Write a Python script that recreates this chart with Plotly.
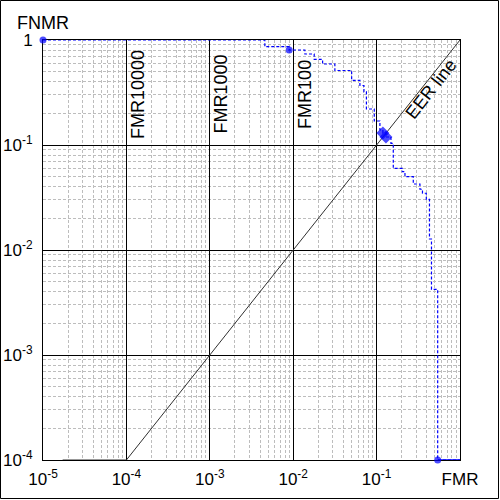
import math
import plotly.graph_objects as go

# DET curve (step vertices, 'hv' shape)
fmr = [1e-5, 4.57e-3, 8.95e-3, 0.0138, 0.01786, 0.02252, 0.0316, 0.0502, 0.0631,
       0.0705, 0.0755, 0.0938, 0.1096, 0.119, 0.1294, 0.1486, 0.1585, 0.2033,
       0.2188, 0.2754, 0.331, 0.3548, 0.3945, 0.4305, 0.455, 0.540, 1.0]
fnmr = [1.0, 0.863, 0.803, 0.736, 0.655, 0.591, 0.5124, 0.4133, 0.3686,
        0.3219, 0.2203, 0.1693, 0.139, 0.130, 0.1192, 0.1038, 0.060, 0.0557,
        0.0499, 0.0425, 0.0379, 0.0347, 0.0304, 0.01273, 0.00422, 1e-4, 1e-4]

# highlighted operating points
mark_x = [1e-5, 8.95e-3, 0.119, 0.1294, 0.540]
mark_y = [1.0, 0.803, 0.130, 0.1192, 1e-4]
mark_sym = ["circle", "circle", "diamond", "diamond", "circle"]
mark_size = [7, 7, 10, 10, 7]

# EER reference line
eer_x = [1.72e-5, 1e-4, 1.0]
eer_y = [1e-4, 1e-4, 1.0]

x_tickvals = [1e-5, 1e-4, 1e-3, 1e-2, 1e-1, 1]
x_ticktext = ["10<sup>-5</sup>", "10<sup>-4</sup>", "10<sup>-3</sup>",
              "10<sup>-2</sup>", "10<sup>-1</sup>", "FMR"]
y_tickvals = [1e-4, 1e-3, 1e-2, 1e-1, 1]
y_ticktext = ["10<sup>-4</sup>", "10<sup>-3</sup>", "10<sup>-2</sup>",
              "10<sup>-1</sup>", "1"]

fmr_labels = ["FMR10000", "FMR1000", "FMR100"]
fmr_label_x = [1e-4, 1e-3, 1e-2]

FONT = "Liberation Sans, Arial, sans-serif"
BLUE = "#0000ff"

fig = go.Figure()
fig.add_trace(go.Scatter(x=eer_x, y=eer_y, mode="lines",
                         line=dict(color="#303030", width=1), hoverinfo="skip"))
fig.add_trace(go.Scatter(x=fmr, y=fnmr, mode="lines", line_shape="hv",
                         line=dict(color=BLUE, width=1.2, dash="3px,2px")))
fig.add_trace(go.Scatter(x=fmr[-2:], y=fnmr[-2:], mode="lines",
                         line=dict(color=BLUE, width=1.5)))
fig.add_trace(go.Scatter(x=mark_x, y=mark_y, mode="markers",
                         marker=dict(color=BLUE, size=mark_size, symbol=mark_sym, line=dict(width=0)),
                         cliponaxis=False))

axis_common = dict(
    type="log", showline=True, linecolor="black", linewidth=1, mirror=True,
    showgrid=True, gridcolor="black", gridwidth=1, ticks="",
    tickfont=dict(family=FONT, size=17, color="black"),
    layer="below traces", zeroline=False, automargin=False,
    minor=dict(dtick="D1", showgrid=True, gridcolor="#bdbdbd", griddash="3px,2px", gridwidth=1),
)
fig.update_xaxes(range=[-5, 0], tickmode="array", tickvals=x_tickvals, ticktext=x_ticktext,
                 ticklabelstandoff=4, **axis_common)
fig.update_yaxes(range=[-4, 0], tickmode="array", tickvals=y_tickvals, ticktext=y_ticktext,
                 ticklabelstandoff=6, **axis_common)

annotations = [dict(xref="paper", yref="paper", x=0, y=1, yshift=17, text="FNMR",
                    showarrow=False, xanchor="center", yanchor="middle",
                    font=dict(family=FONT, size=18, color="black"))]
for lab, xv in zip(fmr_labels, fmr_label_x):
    annotations.append(dict(xref="x", yref="paper", x=math.log10(xv), y=0.871, xshift=11.5,
                            text=lab, textangle=-90, showarrow=False,
                            xanchor="center", yanchor="middle",
                            font=dict(family=FONT, size=18, color="black")))
annotations.append(dict(xref="x", yref="y", x=-0.348, y=-0.4667, text="EER line",
                        textangle=-51.6, showarrow=False, xanchor="center", yanchor="middle",
                        font=dict(family=FONT, size=18, color="black")))

fig.update_layout(
    width=500, height=500, showlegend=False,
    margin=dict(l=43, r=40, t=40, b=40, autoexpand=False),
    paper_bgcolor="white", plot_bgcolor="white",
    annotations=annotations,
    shapes=[dict(type="rect", xref="paper", yref="paper",
                 x0=(0.5 - 43) / 417, x1=(498.5 - 43) / 417,
                 y0=(460 - 498.5) / 420, y1=(460 - 0.5) / 420,
                 line=dict(color="black", width=1), fillcolor="rgba(0,0,0,0)")],
)

fig.write_html("out.html", config={"displayModeBar": False},
               post_script="document.body.style.margin='0';document.body.style.overflow='hidden';")
